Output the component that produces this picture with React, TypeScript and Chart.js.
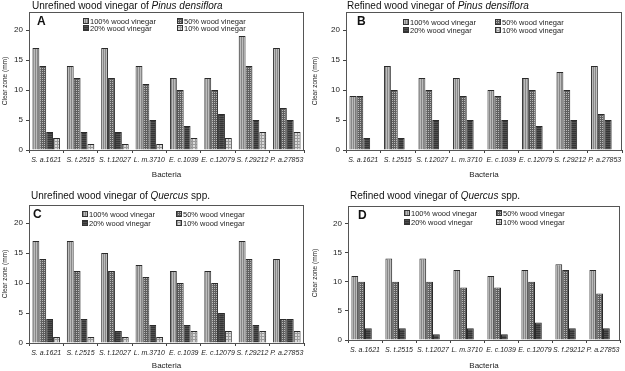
import React, { useEffect, useRef } from "react";
import { Chart, registerables } from "chart.js";
Chart.register(...registerables);

const categories = ["S. a.1621", "S. t.2515", "S. t.12027", "L. m.3710", "E. c.1039", "E. c.12079", "S. f.29212", "P. a.27853"];
const seriesLabels = ["100% wood vinegar", "50% wood vinegar", "20% wood vinegar", "10% wood vinegar"];
const yTickValues = [0, 5, 10, 15, 20];
const yMax = 23;

// Panel A: Unrefined, Pinus densiflora
const unrefinedPinus100 = [17, 14, 17, 14, 12, 12, 19, 17];
const unrefinedPinus50 = [14, 12, 12, 11, 10, 10, 14, 7];
const unrefinedPinus20 = [3, 3, 3, 5, 4, 6, 5, 5];
const unrefinedPinus10 = [2, 1, 1, 1, 2, 2, 3, 3];

// Panel B: Refined, Pinus densiflora
const refinedPinus100 = [9, 14, 12, 12, 10, 12, 13, 14];
const refinedPinus50 = [9, 10, 10, 9, 9, 10, 10, 6];
const refinedPinus20 = [2, 2, 5, 5, 5, 4, 5, 5];
const refinedPinus10 = [null, null, null, null, null, null, null, null];

// Panel C: Unrefined, Quercus spp.
const unrefinedQuercus100 = [17, 17, 15, 13, 12, 12, 17, 14];
const unrefinedQuercus50 = [14, 12, 12, 11, 10, 10, 14, 4];
const unrefinedQuercus20 = [4, 4, 2, 3, 3, 5, 3, 4];
const unrefinedQuercus10 = [1, 1, 1, 1, 2, 2, 2, 2];

// Panel D: Refined, Quercus spp.
const refinedQuercus100 = [11, 14, 14, 12, 11, 12, 13, 12];
const refinedQuercus50 = [10, 10, 10, 9, 9, 10, 12, 8];
const refinedQuercus20 = [2, 2, 1, 2, 1, 3, 2, 2];
const refinedQuercus10 = [null, null, null, null, null, null, null, null];

const FONT = "'Liberation Sans', Arial, sans-serif";

function makePattern(kind: number): CanvasPattern | string {
  const c = document.createElement("canvas");
  const ctx = c.getContext("2d");
  if (!ctx) return "#999";
  if (kind === 0) {
    c.width = 2; c.height = 2;
    ctx.fillStyle = "#bcbcbc"; ctx.fillRect(0, 0, 2, 2);
    ctx.fillStyle = "#878787"; ctx.fillRect(1, 0, 1, 2);
  } else if (kind === 1) {
    c.width = 2; c.height = 2;
    ctx.fillStyle = "#5e5e5e"; ctx.fillRect(0, 0, 2, 2);
    ctx.fillStyle = "#b8b8b8"; ctx.fillRect(0, 0, 1, 1);
  } else if (kind === 2) {
    c.width = 2; c.height = 2;
    ctx.fillStyle = "#505050"; ctx.fillRect(0, 0, 2, 2);
    ctx.fillStyle = "#353535"; ctx.fillRect(0, 1, 2, 1);
  } else {
    c.width = 3; c.height = 3;
    ctx.fillStyle = "#dadada"; ctx.fillRect(0, 0, 3, 3);
    ctx.fillStyle = "#9a9a9a"; ctx.fillRect(0, 0, 3, 1); ctx.fillRect(0, 0, 1, 3);
  }
  const p = ctx.createPattern(c, "repeat");
  return p || "#999";
}

type PanelDef = {
  key: string;
  letter: string;
  titleMain: string;
  titleItalic: string;
  titleTail: string;
  series: (number | null)[][];
  box: { left: number; top: number; width: number; height: number };
  area: { l: number; t: number; r: number; b: number };
  letterOff: [number, number];
  legendCols: [number, number];
  legendRows: [number, number];
  titlePos: [number, number];
};

const panels: PanelDef[] = [
  {
    key: "A", letter: "A", titleMain: "Unrefined wood vinegar of ", titleItalic: "Pinus densiflora", titleTail: "",
    series: [unrefinedPinus100, unrefinedPinus50, unrefinedPinus20, unrefinedPinus10],
    box: { left: 0, top: 0, width: 310, height: 180 },
    area: { l: 29, t: 12, r: 304, b: 150 },
    letterOff: [8, 13], legendCols: [54, 148], legendRows: [9, 16], titlePos: [32, 0],
  },
  {
    key: "B", letter: "B", titleMain: "Refined wood vinegar of ", titleItalic: "Pinus densiflora", titleTail: "",
    series: [refinedPinus100, refinedPinus50, refinedPinus20, refinedPinus10],
    box: { left: 310, top: 0, width: 315, height: 180 },
    area: { l: 36, t: 12, r: 312, b: 150 },
    letterOff: [11, 13], legendCols: [57, 149], legendRows: [10, 18], titlePos: [347, 0],
  },
  {
    key: "C", letter: "C", titleMain: "Unrefined wood vinegar of ", titleItalic: "Quercus", titleTail: " spp.",
    series: [unrefinedQuercus100, unrefinedQuercus50, unrefinedQuercus20, unrefinedQuercus10],
    box: { left: 0, top: 180, width: 310, height: 191 },
    area: { l: 29, t: 25, r: 304, b: 163 },
    letterOff: [4, 13], legendCols: [53, 147], legendRows: [9, 18], titlePos: [31, 190],
  },
  {
    key: "D", letter: "D", titleMain: "Refined wood vinegar of ", titleItalic: "Quercus", titleTail: " spp.",
    series: [refinedQuercus100, refinedQuercus50, refinedQuercus20, refinedQuercus10],
    box: { left: 310, top: 180, width: 315, height: 191 },
    area: { l: 38, t: 26, r: 310, b: 160 },
    letterOff: [10, 13], legendCols: [56, 148], legendRows: [7, 16], titlePos: [350, 190],
  },
];

function Panel({ def }: { def: PanelDef }) {
  const ref = useRef<HTMLCanvasElement | null>(null);
  useEffect(() => {
    if (!ref.current) return;
    const fills = [0, 1, 2, 3].map((k) => makePattern(k));
    const { area, box } = def;
    const overlay = {
      id: "overlay" + def.key,
      afterDraw(chart: any) {
        const ctx = chart.ctx;
        const ca = chart.chartArea;
        ctx.save();
        ctx.strokeStyle = "#555";
        ctx.lineWidth = 1;
        ctx.strokeRect(Math.round(ca.left) + 0.5, Math.round(ca.top) + 0.5, Math.round(ca.right - ca.left) - 1, Math.round(ca.bottom - ca.top));
        ctx.fillStyle = "#111";
        ctx.font = "bold 12px " + FONT;
        ctx.textBaseline = "alphabetic";
        ctx.fillText(def.letter, ca.left + def.letterOff[0], ca.top + def.letterOff[1]);
        ctx.font = "7.5px " + FONT;
        ctx.textBaseline = "middle";
        seriesLabels.forEach((lab, i) => {
          const col = i % 2;
          const row = Math.floor(i / 2);
          const x = ca.left + def.legendCols[col];
          const y = ca.top + def.legendRows[row];
          ctx.fillStyle = fills[i] as any;
          ctx.fillRect(x, y - 3, 6, 6);
          ctx.strokeStyle = "#333";
          ctx.strokeRect(x + 0.5, y - 2.5, 5, 5);
          ctx.fillStyle = "#222";
          ctx.fillText(lab, x + 7, y + 0.5);
        });
        ctx.restore();
      },
    };
    const chart = new Chart(ref.current, {
      type: "bar",
      data: {
        labels: categories,
        datasets: def.series.map((vals, i) => ({
          label: seriesLabels[i],
          data: vals,
          backgroundColor: fills[i] as any,
          borderColor: "#2a2a2a",
          borderWidth: 1,
          borderSkipped: "bottom",
          barPercentage: 1,
          categoryPercentage: 0.8,
        })),
      },
      options: {
        animation: false,
        responsive: false,
        devicePixelRatio: 1,
        layout: { padding: { top: area.t, right: box.width - area.r, left: 0, bottom: 0 } },
        plugins: { legend: { display: false }, tooltip: { enabled: false }, title: { display: false } },
        scales: {
          x: {
            grid: { display: true, drawOnChartArea: false, offset: true, tickLength: 3, color: "#444" },
            border: { display: true, color: "#444" },
            ticks: { color: "#222", font: { family: FONT, size: 7, style: "italic" }, padding: 3, maxRotation: 0, autoSkip: false },
            title: { display: true, text: "Bacteria", color: "#222", font: { family: FONT, size: 8 }, padding: { top: 0, bottom: 0 } },
            afterFit: (s: any) => { s.height = box.height - area.b; },
          },
          y: {
            min: 0,
            max: yMax,
            grid: { display: true, drawOnChartArea: false, tickLength: 3, color: "#444" },
            border: { display: true, color: "#444" },
            ticks: { color: "#222", font: { family: FONT, size: 8 }, padding: 3 },
            afterBuildTicks: (s: any) => { s.ticks = yTickValues.map((v) => ({ value: v })); },
            title: { display: true, text: "Clear zone (mm)", color: "#222", font: { family: FONT, size: 6.5 }, padding: { top: 1, bottom: 0 } },
            afterFit: (s: any) => { s.width = area.l; },
          },
        },
      },
      plugins: [overlay],
    });
    return () => chart.destroy();
  }, [def]);
  return (
    <>
      <canvas
        ref={ref}
        width={def.box.width}
        height={def.box.height}
        style={{ position: "absolute", left: def.box.left, top: def.box.top, width: def.box.width, height: def.box.height }}
      />
      <div
        style={{
          position: "absolute", left: def.titlePos[0], top: def.titlePos[1], fontFamily: FONT, fontSize: "10px",
          lineHeight: "12px", color: "#111", whiteSpace: "nowrap",
        }}
      >
        {def.titleMain}
        <i>{def.titleItalic}</i>
        {def.titleTail}
      </div>
    </>
  );
}

export default function App() {
  return (
    <div style={{ position: "absolute", left: 0, top: 0, width: 625, height: 371, background: "#fff", overflow: "hidden" }}>
      {panels.map((p) => (
        <Panel key={p.key} def={p} />
      ))}
    </div>
  );
}
